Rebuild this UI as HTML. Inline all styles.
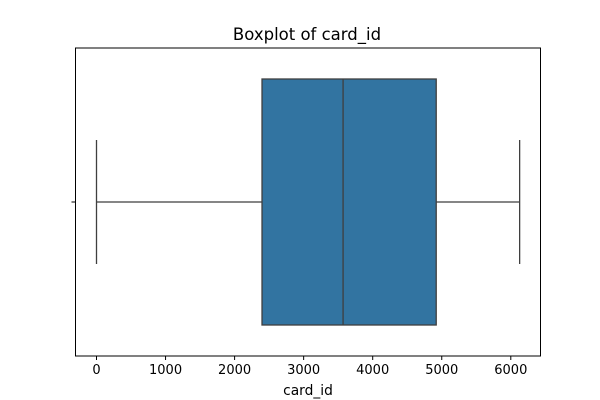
<!DOCTYPE html>
<html><head><meta charset="utf-8"><style>body{margin:0;background:#fff}svg{display:block;font-family:"DejaVu Sans","Liberation Sans",sans-serif}</style></head>
<body>
<svg id="c" width="600" height="400"></svg>
<script>
const categories = ["card_id"];
const minVals = [0];
const q1Vals = [2397];
const medianVals = [3571];
const q3Vals = [4920];
const maxVals = [6128];
const tickValues = [0, 1000, 2000, 3000, 4000, 5000, 6000];
const tickLabels = ["0", "1000", "2000", "3000", "4000", "5000", "6000"];

const L = 75.5, R = 540.5, T = 48, B = 356;
const x = v => 96.5 + v * 0.06905;
const NS = "http://www.w3.org/2000/svg";
const svg = document.getElementById('c');
function mk(tag, attrs, parent) {
  const e = document.createElementNS(NS, tag);
  for (const k in attrs) e.setAttribute(k, attrs[k]);
  (parent || svg).appendChild(e);
  return e;
}
let t = mk('text', {x: 307, y: 40, 'text-anchor': 'middle', 'font-size': 16.5, fill: '#000'});
t.textContent = 'Boxplot of card_id';



const cy = 202;
categories.forEach((c, i) => {
  const g = mk('g', {});
  
  
  const st = {stroke: '#3f3f3f', 'stroke-width': 1.3, fill: 'none'};
  mk('line', Object.assign({x1: x(minVals[i]), x2: x(q1Vals[i]), y1: cy, y2: cy}, st), g);
  mk('line', Object.assign({x1: x(q3Vals[i]), x2: x(maxVals[i]), y1: cy, y2: cy}, st), g);
  mk('line', Object.assign({x1: x(minVals[i]), x2: x(minVals[i]), y1: 140, y2: 264}, st), g);
  mk('line', Object.assign({x1: x(maxVals[i]), x2: x(maxVals[i]), y1: 140, y2: 264}, st), g);
  mk('rect', {x: x(q1Vals[i]), y: 79, width: x(q3Vals[i]) - x(q1Vals[i]), height: 246, fill: '#3274a1', stroke: '#3f3f3f', 'stroke-width': 1.3}, g);
  mk('line', Object.assign({x1: x(medianVals[i]), x2: x(medianVals[i]), y1: 79, y2: 325}, st), g);
});

const fr = mk('rect', {x: L, y: T, width: R - L, height: B - T, fill: 'none', stroke: '#000', 'stroke-width': 1});


mk('line', {x1: L - 4, x2: L, y1: cy, y2: cy, stroke: '#000'});
tickValues.forEach((v, i) => {
  mk('line', {x1: x(v), x2: x(v), y1: B, y2: B + 4, stroke: '#000'});
  const l = mk('text', {x: x(v), y: B + 18, 'text-anchor': 'middle', 'font-size': 13, fill: '#000'});
  l.textContent = tickLabels[i];
  
  
});
const xt = mk('text', {x: 308, y: 395, 'text-anchor': 'middle', 'font-size': 13.8, fill: '#000'});
xt.textContent = 'card_id';


</script>
</body></html>
